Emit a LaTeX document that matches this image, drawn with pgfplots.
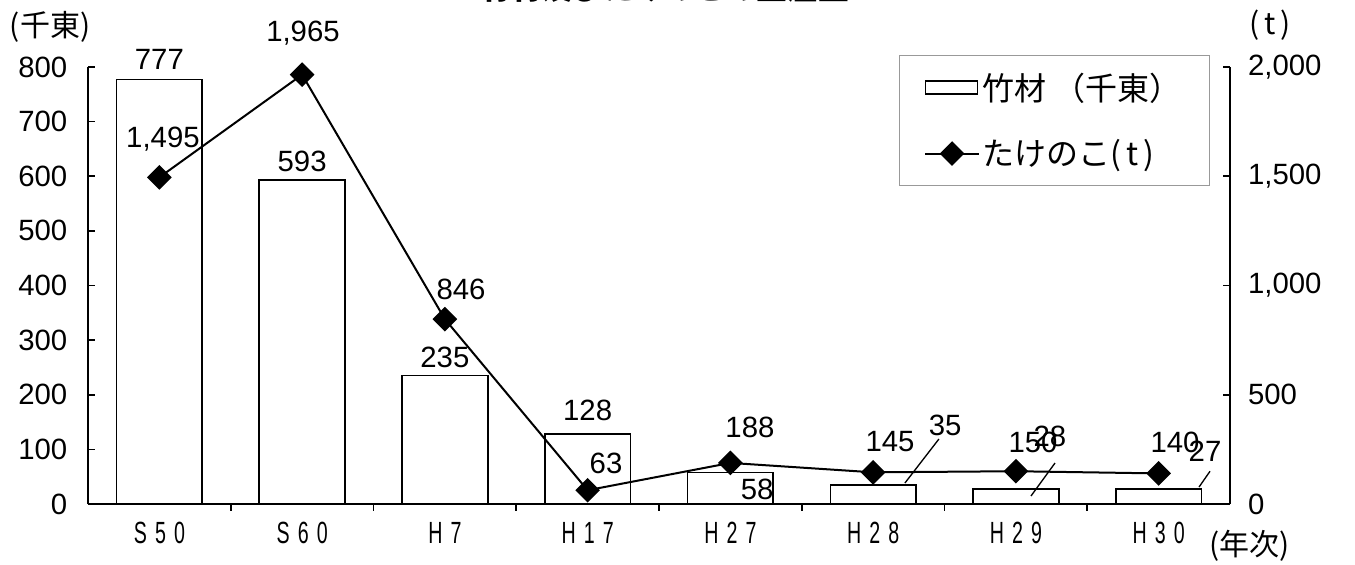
\documentclass[border=0pt]{standalone}
\usepackage{pgfplots}
\pgfplotsset{compat=1.18}
\usepackage{fontspec}
\setmainfont{Liberation Sans}
\newfontfamily\cjk{Noto Sans CJK JP}
\newcommand\numfont{\fontsize{22pt}{25pt}\selectfont}
\newcommand\jpfont{\cjk\fontsize{22.5pt}{26pt}\selectfont}
\newcommand\xl[1]{\scalebox{0.64}[1]{#1}}
\newcommand\gap{\hspace{9.5pt}}

\begin{document}
\begin{tikzpicture}
	\pgfplotsset{
		base/.style={
			width=856.5pt, height=327.75pt,
			scale only axis,
			xmin=-0.5, xmax=7.5,
			clip=false,
			tick align=inside,
			major tick length=5pt,
			minor tick length=5pt,
			axis line style={line width=1.2pt},
			every outer x axis line/.append style={-},
			every outer y axis line/.append style={-},
			tick style={line width=1.2pt, black},
			/pgf/number format/assume math mode=true,
			tick label style={font=\numfont},
		},
	}
	\begin{axis}[
			base,
			ybar,
			bar width=0.6,
			axis x line*=bottom,
			axis y line*=left,
			ymin=0, ymax=800,
			ytick={0,100,...,800},
			yticklabel style={xshift=-12pt},
			xtick={0,...,7},
			xticklabels={\xl{S\gap5\gap0},\xl{S\gap6\gap0},\xl{H\gap7},\xl{H\gap1\gap7},\xl{H\gap2\gap7},\xl{H\gap2\gap8},\xl{H\gap2\gap9},\xl{H\gap3\gap0}},
			xticklabel style={yshift=-5pt, font=\fontsize{23pt}{26pt}\selectfont},
			major x tick style={draw=none},
			minor xtick={0.5,1.5,...,6.5},
		]
		\addplot[fill=white, draw=black, line width=1.2pt]
		coordinates {(0,777)(1,593)(2,235)(3,128)(4,58)(5,35)(6,28)(7,27)};

		% bar values
		\node[font=\numfont] at (axis cs:0,813) {777};
		\node[font=\numfont] at (axis cs:1,628) {593};
		\node[font=\numfont] at (axis cs:2,269) {235};
		\node[font=\numfont] at (axis cs:3,172) {128};
		\node[font=\numfont] at (axis cs:4.187,27.5) {58};
		\node[font=\numfont] at (axis cs:5.504,144.7) {35};
		\node[font=\numfont] at (axis cs:6.239,124.5) {28};
		\node[font=\numfont] at (axis cs:7.325,97) {27};
		\draw[line width=1pt] (axis cs:5.223,38.5) -- (axis cs:5.461,119);
		\draw[line width=1pt] (axis cs:6.106,14.7) -- (axis cs:6.274,75);
		\draw[line width=1pt] (axis cs:7.283,31) -- (axis cs:7.36,60);

		% line values
		\node[font=\numfont] at (axis cs:0.025,668.5) {1,495};
		\node[font=\numfont] at (axis cs:1.006,862.6) {1,965};
		\node[font=\numfont] at (axis cs:2.113,392) {846};
		\node[font=\numfont] at (axis cs:3.129,75) {63};
		\node[font=\numfont] at (axis cs:4.137,141) {188};
		\node[font=\numfont] at (axis cs:5.118,113.5) {145};
		\node[font=\numfont] at (axis cs:6.12,113.5) {150};
		\node[font=\numfont] at (axis cs:7.115,113.5) {140};

		% units and title
		\node[font=\jpfont] at (axis cs:-0.766,873.6) {(千東)};
		\node[font=\jpfont] at (axis cs:7.78,877) {(\,t\,)};
		\node[font=\jpfont] at (axis cs:7.64,-77) {(年次)};
		\node[font=\cjk\bfseries\fontsize{23pt}{26pt}\selectfont, anchor=south, inner sep=0pt] at (axis cs:3.542,918) {竹材及びたけのこの生産量};
	\end{axis}

	\begin{axis}[
			base,
			axis x line=none,
			axis y line*=right,
			ymin=0, ymax=2000,
			ytick={0,500,...,2000},
			yticklabel style={xshift=10pt},
			/pgf/number format/1000 sep={,},
			legend image code/.code={\draw[mark repeat=2, mark phase=2, #1] plot coordinates {(0pt,0pt) (20pt,0pt) (40pt,0pt)};},
			legend cell align=left,
			legend style={
				at={(0.9825,1.0275)}, anchor=north east,
				draw=gray!80, line width=0.6pt, fill=white,
				font=\cjk\fontsize{24pt}{27pt}\selectfont,
				inner xsep=19pt, inner ysep=11pt,
				row sep=24pt,
			},
		]
		\addlegendimage{legend image code/.code={\draw[line width=1.2pt, fill=white] (0pt,-5pt) rectangle (39pt,5pt);}}
		\addlegendentry{竹材 （千東）}
		\addplot[black, line width=1.5pt, mark=square*, mark size=5.8pt, mark options={rotate=45, solid}]
		coordinates {(0,1495)(1,1965)(2,846)(3,63)(4,188)(5,145)(6,150)(7,140)};
		\addlegendentry{たけのこ(\,t\,)}
	\end{axis}

	\pgfresetboundingbox
	\path ([xshift=-66pt,yshift=-45pt]current axis.south west) rectangle ([xshift=93.75pt,yshift=50.25pt]current axis.north east);
\end{tikzpicture}
\end{document}
